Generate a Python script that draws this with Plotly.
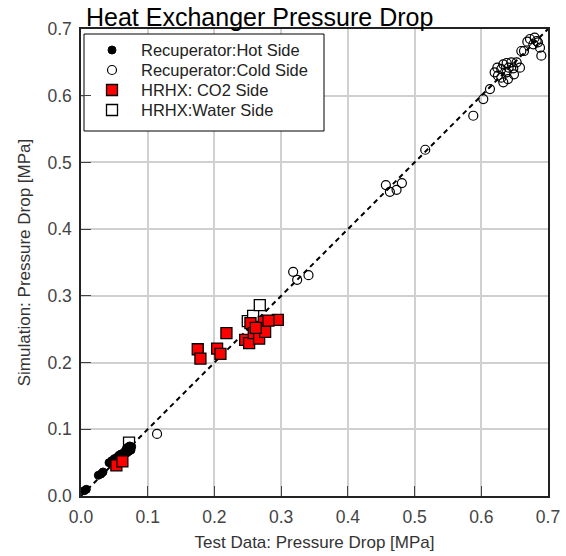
import plotly.graph_objects as go

# Recuperator hot side (test, simulation) in MPa
hot_test = [0.005, 0.008, 0.026, 0.030, 0.033, 0.042, 0.046, 0.050, 0.054, 0.057,
            0.060, 0.063, 0.065, 0.067, 0.069, 0.071, 0.072, 0.074, 0.075, 0.076,
            0.068, 0.064, 0.070, 0.073]
hot_sim = [0.008, 0.010, 0.031, 0.033, 0.036, 0.050, 0.053, 0.056, 0.058, 0.061,
           0.063, 0.062, 0.066, 0.068, 0.065, 0.070, 0.067, 0.072, 0.069, 0.074,
           0.071, 0.060, 0.073, 0.075]

# Recuperator cold side
cold_test = [0.114, 0.318, 0.324, 0.341, 0.457, 0.463, 0.473, 0.481, 0.516,
             0.588, 0.603, 0.613, 0.620, 0.624, 0.630, 0.633, 0.638, 0.641, 0.645,
             0.648, 0.653, 0.658, 0.625, 0.630, 0.638, 0.633, 0.640, 0.649,
             0.660, 0.664, 0.673, 0.680, 0.685, 0.678, 0.688, 0.690, 0.683, 0.669]
cold_sim = [0.093, 0.336, 0.324, 0.331, 0.466, 0.456, 0.459, 0.469, 0.519,
            0.570, 0.595, 0.610, 0.635, 0.642, 0.640, 0.647, 0.649, 0.642, 0.650,
            0.641, 0.650, 0.642, 0.630, 0.627, 0.635, 0.620, 0.625, 0.632,
            0.667, 0.667, 0.685, 0.687, 0.680, 0.677, 0.672, 0.660, 0.682, 0.681]

# HRHX CO2 side
co2_test = [0.053, 0.062, 0.175, 0.179, 0.204, 0.209, 0.218, 0.246, 0.252, 0.254,
            0.259, 0.267, 0.274, 0.276, 0.295, 0.281, 0.262]
co2_sim = [0.046, 0.052, 0.220, 0.206, 0.221, 0.213, 0.244, 0.234, 0.229, 0.259,
           0.244, 0.236, 0.261, 0.246, 0.264, 0.263, 0.252]

# HRHX water side
water_test = [0.072, 0.250, 0.258, 0.268]
water_sim = [0.080, 0.262, 0.270, 0.286]

parity = [0.0, 0.7]
ticks = [0.0, 0.1, 0.2, 0.3, 0.4, 0.5, 0.6, 0.7]

series_names = ["Recuperator:Hot Side", "Recuperator:Cold Side",
                "HRHX: CO2 Side", "HRHX:Water Side"]

FONT = "Liberation Sans, Arial"
W, H = 566, 556
ML, MR, MT, MB = 81, 18, 29, 60
PW, PH = W - ML - MR, H - MT - MB

# marker styles per series (hot, cold, co2, water)
styles = [
    dict(symbol="circle", size=8, color="black", line=dict(color="black", width=1)),
    dict(symbol="circle-open", size=9, color="black", line=dict(color="black", width=1.2)),
    dict(symbol="square", size=11, color="#ff0000", line=dict(color="black", width=1.3)),
    dict(symbol="square", size=11, color="white", line=dict(color="black", width=1.3)),
]


def px_x(p):
    return (p - ML) / PW


def px_y(p):
    return (H - MB - p) / PH


fig = go.Figure()

# 1:1 parity line
fig.add_trace(go.Scatter(x=parity, y=parity, mode="lines", showlegend=False,
                         line=dict(color="black", width=2, dash="5px,4px")))

# draw order: water squares, hot circles, cold circles, CO2 squares
for xs, ys, idx in [(water_test, water_sim, 3), (hot_test, hot_sim, 0),
                    (cold_test, cold_sim, 1), (co2_test, co2_sim, 2)]:
    fig.add_trace(go.Scatter(x=xs, y=ys, mode="markers", name=series_names[idx],
                             showlegend=False, marker=styles[idx]))

# custom legend drawn on an overlay axis spanning the plot area in [0, 1]
box_l, box_r, box_t, box_b = px_x(84), px_x(324), px_y(34), px_y(131)
fig.add_trace(go.Scatter(
    x=[box_l, box_r, box_r, box_l, box_l], y=[box_b, box_b, box_t, box_t, box_b],
    xaxis="x2", yaxis="y2", mode="lines", fill="toself", fillcolor="white",
    line=dict(color="black", width=1), showlegend=False, hoverinfo="skip"))

row_px = [50, 70, 90, 110]
for i, st in enumerate(styles):
    fig.add_trace(go.Scatter(x=[px_x(112)], y=[px_y(row_px[i])], xaxis="x2", yaxis="y2",
                             mode="markers", marker=st, showlegend=False,
                             hoverinfo="skip"))

annotations = [dict(text=name, x=px_x(139), y=px_y(row_px[i]), xref="paper", yref="paper",
                    xanchor="left", yanchor="middle", showarrow=False,
                    font=dict(family=FONT, size=16.5, color="#222"))
               for i, name in enumerate(series_names)]

annotations.append(dict(text="Heat Exchanger Pressure Drop", x=px_x(84), y=1.0,
                        xref="paper", yref="paper", xanchor="left", yanchor="bottom",
                        showarrow=False, yshift=-4,
                        font=dict(family=FONT, size=25, color="black")))

axis_common = dict(
    range=[0, 0.7], tickvals=ticks, tickformat=".1f",
    showgrid=True, gridcolor="#d0d0d0", gridwidth=1.5,
    showline=True, linecolor="#222", linewidth=1.5, mirror=True,
    ticks="inside", ticklen=10, tickcolor="#444", ticklabelstandoff=4,
    tickfont=dict(family=FONT, size=17.5, color="#444"),
    zeroline=False, automargin=False,
)

fig.update_layout(
    width=W, height=H,
    margin=dict(l=ML, r=MR, t=MT, b=MB, autoexpand=False),
    paper_bgcolor="white", plot_bgcolor="white",
    font=dict(family=FONT, color="#333"),
    xaxis=dict(axis_common,
               title=dict(text="Test Data: Pressure Drop [MPa]",
                          font=dict(size=17, color="#333"), standoff=10)),
    yaxis=dict(axis_common,
               title=dict(text="Simulation: Pressure Drop [MPa]",
                          font=dict(size=17, color="#333"), standoff=12)),
    xaxis2=dict(overlaying="x", range=[0, 1], visible=False, fixedrange=True),
    yaxis2=dict(overlaying="y", range=[0, 1], visible=False, fixedrange=True),
    showlegend=False,
    annotations=annotations,
)

fig.write_html("out.html")
